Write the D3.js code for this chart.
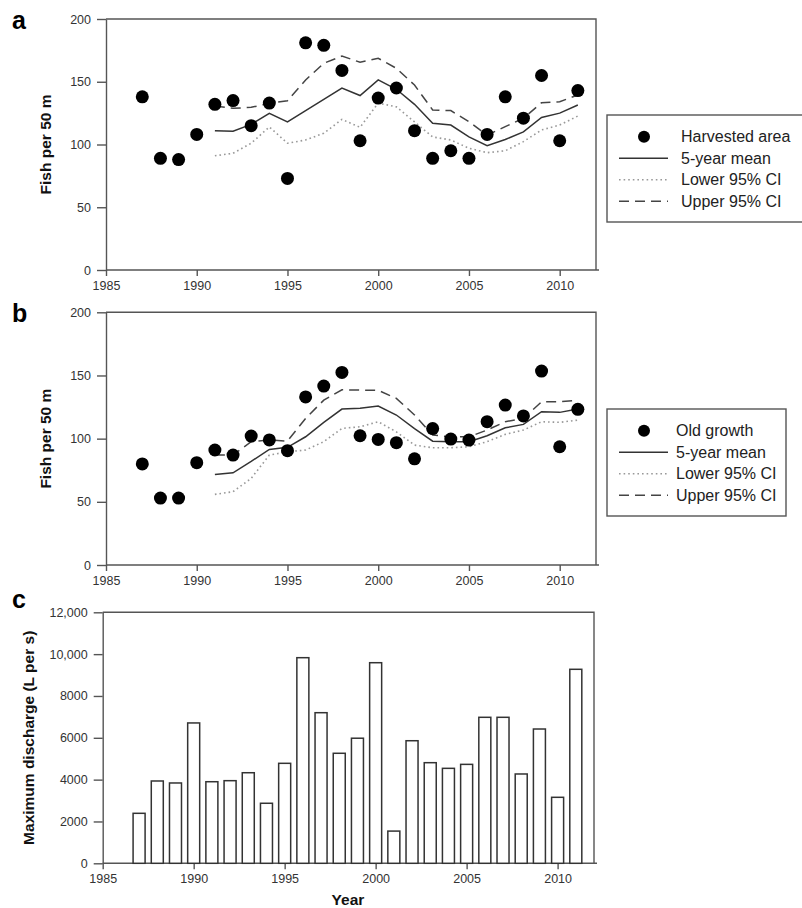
<!DOCTYPE html>
<html>
<head>
<meta charset="utf-8">
<script src="https://cdn.jsdelivr.net/npm/d3@7"></script>
<style>
  body { margin: 0; background: #fff; }
  svg { display: block; font-family: "Liberation Sans", Arial, sans-serif; }
</style>
</head>
<body>
<svg id="chart" width="802" height="908"></svg>
<script>
// yearly survey points
var years = [1987, 1988, 1989, 1990, 1991, 1992, 1993, 1994, 1995, 1996, 1997, 1998, 1999,
             2000, 2001, 2002, 2003, 2004, 2005, 2006, 2007, 2008, 2009, 2010, 2011];
// running mean years (5-year window)
var meanYears = [1991, 1992, 1993, 1994, 1995, 1996, 1997, 1998, 1999, 2000, 2001,
                 2002, 2003, 2004, 2005, 2006, 2007, 2008, 2009, 2010, 2011];

// a - harvested area
var harvestedFish = [138, 89, 88, 108, 132, 135, 115, 133, 73, 181, 179, 159, 103,
                     137, 145, 111, 89, 95, 89, 108, 138, 121, 155, 103, 143];
var harvestedMean = [111, 110.5, 116, 124.8, 118, 127, 136, 145, 139, 151.5, 144,
                     132, 117, 115.5, 106, 99, 104, 110, 121.5, 125, 131.5];
var harvestedLower = [91, 93, 101, 114, 101, 103.6, 109, 120, 113.7, 133, 130,
                      118, 106, 103.6, 97, 93.5, 95, 102.3, 111.6, 115.5, 122.7];
var harvestedUpper = [130.7, 128.8, 129.6, 132.8, 134.9, 151.4, 164.7, 170.5, 165.5, 168.7, 160.7,
                      147.4, 127.5, 127, 118.2, 107.5, 114.2, 120.9, 133.3, 134.1, 139.4];

// b - old growth
var oldFish = [80, 53, 53, 81, 91, 87, 102, 99, 90.5, 133, 141.6, 152.4, 102.3,
               99.4, 96.8, 84, 108, 99.7, 98.9, 113.4, 126.6, 118, 153.5, 93.6, 123.2];
var oldMean = [71.7, 73, 82, 91.5, 93.1, 101.5, 112.9, 123.4, 124, 125.8, 118.7,
               108, 98, 97.6, 97.6, 102.3, 108.6, 111.3, 121.3, 120.8, 123.4];
var oldLower = [55.9, 58, 68.6, 87, 89.6, 91, 97.6, 108.1, 109.4, 113.4, 105.4,
                94.9, 92.8, 92.8, 93.6, 97.6, 103.4, 106.8, 113.4, 112.9, 114.7];
var oldUpper = [87, 87, 97.6, 98.9, 98.1, 116, 130.5, 138.7, 138.4, 138.2, 131.9,
                118.7, 102.8, 101.5, 101.5, 106.8, 113.4, 116, 129.2, 129.2, 130.5];

// c - max discharge (L per s)
var discharge = [2390, 3935, 3840, 6710, 3900, 3950, 4330, 2870, 4780, 9830, 7200, 5260, 5980,
                 9590, 1540, 5860, 4810, 4540, 4730, 6980, 6980, 4270, 6420, 3155, 9275];

var yearTicks = [1985, 1990, 1995, 2000, 2005, 2010];
var fishTicks = [0, 50, 100, 150, 200];
var dischargeTicks = [0, 2000, 4000, 6000, 8000, 10000, 12000];
var dischargeTickLabels = ["0", "2000", "4000", "6000", "8000", "10,000", "12,000"];

var legendLabels = ["5-year mean", "Lower 95% CI", "Upper 95% CI"];

var svg = d3.select("#chart");
var axisColor = "#555";

function styleAxis(g) {
  g.select(".domain").attr("stroke", axisColor).attr("stroke-width", 1.4);
  g.selectAll(".tick line").attr("stroke", axisColor).attr("stroke-width", 1.4);
  g.selectAll(".tick text").attr("fill", "#333").style("font-size", "12.5px");
}

// draws the frame + axes, returns the scales
function drawFrame(left, right, top, bottom, yDomain, yTicks, yLabels, yTitle, titleX) {
  var x = d3.scaleLinear().domain([1985, 2012]).range([left, right]);
  var y = d3.scaleLinear().domain(yDomain).range([bottom, top]);

  var gx = svg.append("g").attr("transform", "translate(0," + bottom + ")")
    .call(d3.axisBottom(x).tickValues(yearTicks).tickFormat(d3.format("d"))
      .tickSize(6).tickSizeOuter(0).tickPadding(5));
  styleAxis(gx);
  gx.select(".domain").attr("d", "M" + left + ",0H" + (right + 3));

  var gy = svg.append("g").attr("transform", "translate(" + left + ",0)")
    .call(d3.axisLeft(y).tickValues(yTicks)
      .tickFormat(function(d, i) { return yLabels ? yLabels[i] : d; })
      .tickSize(9).tickSizeOuter(0).tickPadding(6));
  styleAxis(gy);

  // top and right of the box
  svg.append("path")
    .attr("d", "M" + left + "," + top + "H" + right + "V" + bottom)
    .attr("fill", "none").attr("stroke", axisColor).attr("stroke-width", 1.4);

  svg.append("text")
    .attr("transform", "translate(" + titleX + "," + (top + bottom) / 2 + ") rotate(-90)")
    .attr("text-anchor", "middle").attr("dominant-baseline", "central")
    .style("font-size", "15.5px").style("font-weight", "bold").attr("fill", "#111")
    .text(yTitle);

  return { x: x, y: y };
}

var lineStyles = [
  { stroke: "#333", dash: null, width: 1.5 },
  { stroke: "#999", dash: "1.6,3", width: 1.6 },
  { stroke: "#444", dash: "10,6", width: 1.5 }
];

function drawFishPanel(top, bottom, letter, fish, series, pointLabel, legendBox) {
  var s = drawFrame(106, 596, top, bottom, [0, 200], fishTicks, null, "Fish per 50 m", 45);

  series.forEach(function(vals, k) {
    var line = d3.line()
      .x(function(d, i) { return s.x(meanYears[i]); })
      .y(function(d) { return s.y(d); });
    svg.append("path").datum(vals)
      .attr("d", line).attr("fill", "none")
      .attr("stroke", lineStyles[k].stroke)
      .attr("stroke-width", lineStyles[k].width)
      .attr("stroke-dasharray", lineStyles[k].dash);
  });

  svg.append("g").selectAll("circle").data(fish).join("circle")
    .attr("cx", function(d, i) { return s.x(years[i]); })
    .attr("cy", function(d) { return s.y(d); })
    .attr("r", 6.5).attr("fill", "#000");

  svg.append("text").attr("x", 12).attr("y", top + 10)
    .style("font-size", "25px").style("font-weight", "bold").text(letter);

  // legend
  var lg = svg.append("g");
  lg.append("rect")
    .attr("x", legendBox.x).attr("y", legendBox.y)
    .attr("width", legendBox.w).attr("height", legendBox.h)
    .attr("fill", "#fff").attr("stroke", axisColor).attr("stroke-width", 1.4);
  var rowY = function(i) { return legendBox.y + 21.7 + i * 21.5; };
  lg.append("circle").attr("cx", 644).attr("cy", rowY(0)).attr("r", 6).attr("fill", "#000");
  lineStyles.forEach(function(st, k) {
    lg.append("line")
      .attr("x1", 619).attr("x2", 668).attr("y1", rowY(k + 1)).attr("y2", rowY(k + 1))
      .attr("stroke", st.stroke).attr("stroke-width", st.width)
      .attr("stroke-dasharray", st.dash);
  });
  var labels = [pointLabel].concat(legendLabels);
  lg.selectAll("text.lab").data(labels).join("text").attr("class", "lab")
    .attr("x", legendBox.tx).attr("y", function(d, i) { return rowY(i); })
    .attr("dominant-baseline", "central")
    .style("font-size", "16px").attr("fill", "#222")
    .text(function(d) { return d; });
}

drawFishPanel(19, 270, "a", harvestedFish, [harvestedMean, harvestedLower, harvestedUpper],
  "Harvested area", { x: 607, y: 115, w: 196, h: 107, tx: 681 });
drawFishPanel(312.3, 565, "b", oldFish, [oldMean, oldLower, oldUpper],
  "Old growth", { x: 607, y: 409, w: 179, h: 107, tx: 676 });

// panel c, bars
var sc = drawFrame(102.7, 594, 612.3, 863.3, [0, 12000], dischargeTicks, dischargeTickLabels,
  "Maximum discharge (L per s)", 28);
var barW = (sc.x(1986) - sc.x(1985)) * 0.66;
svg.append("g").selectAll("rect").data(discharge).join("rect")
  .attr("x", function(d, i) { return sc.x(years[i]) - barW / 2; })
  .attr("y", function(d) { return sc.y(d); })
  .attr("width", barW)
  .attr("height", function(d) { return sc.y(0) - sc.y(d); })
  .attr("fill", "#fff").attr("stroke", "#333").attr("stroke-width", 1.5);

svg.append("text").attr("x", 12).attr("y", 608)
  .style("font-size", "25px").style("font-weight", "bold").text("c");

svg.append("text").attr("x", 348).attr("y", 905).attr("text-anchor", "middle")
  .style("font-size", "15.5px").style("font-weight", "bold").attr("fill", "#111")
  .text("Year");
</script>
</body>
</html>
